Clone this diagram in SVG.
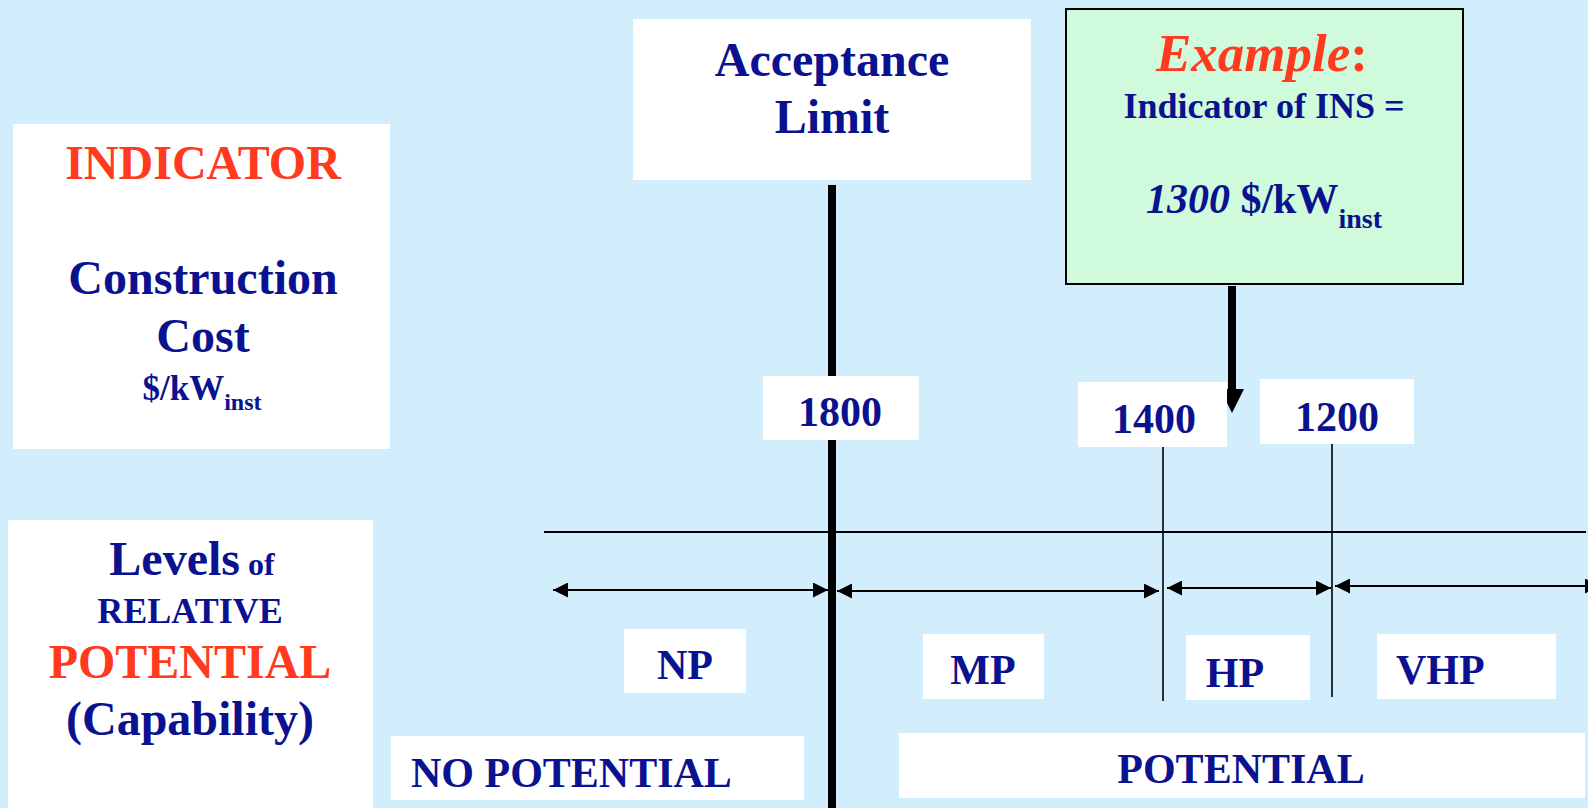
<svg xmlns="http://www.w3.org/2000/svg" width="1588" height="808" viewBox="0 0 1588 808">
  <style>
    .box { fill: #ffffff; }
    .t { font-family: "Liberation Serif", "Times New Roman", serif; font-weight: bold; fill: #0A128F; }
    .red { fill: #FF3A1F; }
    .mid { text-anchor: middle; }
    .thin { stroke: #000; stroke-width: 1.6; fill: none; }
    .dim { stroke: #000; stroke-width: 2; fill: none; marker-start: url(#tip); marker-end: url(#tip); }
  </style>
  <defs>
    <marker id="tip" viewBox="0 0 15 15" refX="15" refY="7.5" markerWidth="15" markerHeight="15" markerUnits="userSpaceOnUse" orient="auto-start-reverse">
      <path d="M0,0 L15,7.5 L0,15 z" fill="#000"/>
    </marker>
  </defs>

  <rect width="1588" height="808" fill="#D2EEFD"/>

  <!-- connectors and scale lines -->
  <g id="connectors">
    <line x1="832" y1="185" x2="832" y2="808" stroke="#000" stroke-width="8"/>
    <line x1="544" y1="532" x2="1586" y2="532" stroke="#000" stroke-width="2"/>
    <line class="thin" x1="1163" y1="447" x2="1163" y2="701"/>
    <line class="thin" x1="1332" y1="444" x2="1332" y2="697"/>
    <line class="dim" x1="553" y1="590" x2="828" y2="590"/>
    <line class="dim" x1="837" y1="591" x2="1159" y2="591"/>
    <line class="dim" x1="1167" y1="588" x2="1331" y2="588"/>
    <line class="dim" x1="1335" y1="586" x2="1600" y2="586"/>
    <line x1="1232" y1="286" x2="1232" y2="392" stroke="#000" stroke-width="8"/>
    <path d="M1220,389 L1244,389 L1232,413 z" fill="#000"/>
  </g>

  <g id="indicator">
    <rect class="box" x="13" y="124" width="377" height="325"/>
    <text class="t red mid" x="203" y="179" font-size="48">INDICATOR</text>
    <text class="t mid" x="203" y="294" font-size="48">Construction</text>
    <text class="t mid" x="203" y="352" font-size="48">Cost</text>
    <text class="t mid" x="202" y="400" font-size="35">$/kW<tspan font-size="24" dy="10">inst</tspan></text>
  </g>

  <g id="levels">
    <rect class="box" x="8" y="520" width="365" height="288"/>
    <text class="t mid" x="192" y="575" font-size="48">Levels<tspan font-size="32"> of</tspan></text>
    <text class="t mid" x="190" y="623" font-size="36">RELATIVE</text>
    <text class="t red mid" x="190" y="678" font-size="48">POTENTIAL</text>
    <text class="t mid" x="190" y="735" font-size="48">(Capability)</text>
  </g>

  <g id="acceptance-limit">
    <rect class="box" x="633" y="19" width="398" height="161"/>
    <text class="t mid" x="832" y="76" font-size="48">Acceptance</text>
    <text class="t mid" x="832" y="133" font-size="48">Limit</text>
  </g>

  <g id="example">
    <rect x="1066" y="9" width="397" height="275" fill="#CFFADB" stroke="#000" stroke-width="2"/>
    <text class="t red mid" x="1262" y="71" font-size="53"><tspan font-style="italic">Example</tspan>:</text>
    <text class="t mid" x="1264" y="118" font-size="36">Indicator of INS =</text>
    <text class="t mid" x="1264" y="213" font-size="42"><tspan font-style="italic">1300</tspan> $/kW<tspan font-size="28" dy="15">inst</tspan></text>
  </g>

  <g id="v1800">
    <rect class="box" x="763" y="376" width="156" height="64"/>
    <text class="t mid" x="840" y="426" font-size="42">1800</text>
  </g>

  <g id="v1400">
    <rect class="box" x="1078" y="382" width="149" height="65"/>
    <text class="t mid" x="1154" y="433" font-size="42">1400</text>
  </g>

  <g id="v1200">
    <rect class="box" x="1260" y="379" width="154" height="65"/>
    <text class="t mid" x="1337" y="431" font-size="42">1200</text>
  </g>

  <g id="np">
    <rect class="box" x="624" y="629" width="122" height="64"/>
    <text class="t mid" x="685" y="679" font-size="42">NP</text>
  </g>

  <g id="mp">
    <rect class="box" x="923" y="634" width="121" height="65"/>
    <text class="t mid" x="983" y="684" font-size="42">MP</text>
  </g>

  <g id="hp">
    <rect class="box" x="1186" y="635" width="124" height="65"/>
    <text class="t mid" x="1235" y="687" font-size="42">HP</text>
  </g>

  <g id="vhp">
    <rect class="box" x="1377" y="634" width="179" height="65"/>
    <text class="t" x="1396" y="684" font-size="42">VHP</text>
  </g>

  <g id="no-potential">
    <rect class="box" x="391" y="736" width="413" height="64"/>
    <text class="t" x="411" y="787" font-size="42">NO POTENTIAL</text>
  </g>

  <g id="potential">
    <rect class="box" x="899" y="733" width="686" height="65"/>
    <text class="t mid" x="1241" y="783" font-size="42">POTENTIAL</text>
  </g>
</svg>
